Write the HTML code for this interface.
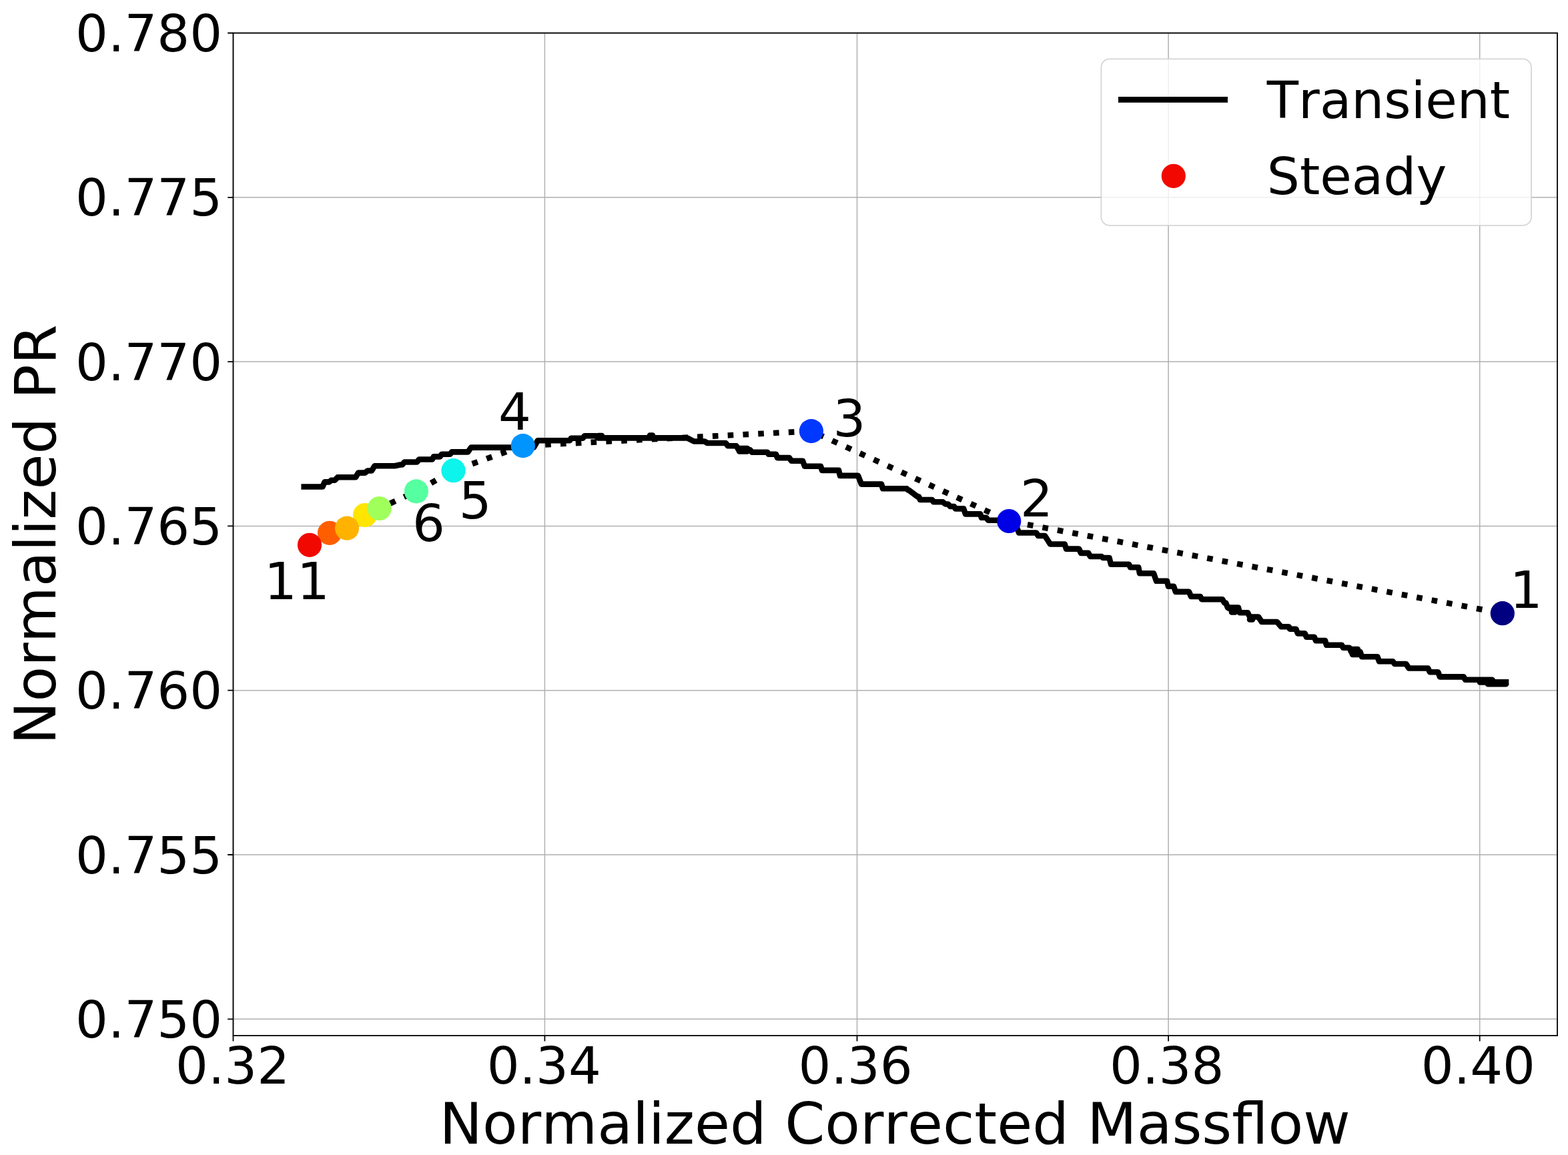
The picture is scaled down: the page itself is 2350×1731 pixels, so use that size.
<!DOCTYPE html>
<html><head><meta charset="utf-8"><title>Normalized PR vs Normalized Corrected Massflow</title>
<style>html,body{margin:0;padding:0;background:#fff;width:2350px;height:1731px;overflow:hidden}svg{display:block}</style>
</head><body><svg width="2350" height="1731" viewBox="0 0 2350 1731" font-family="'DejaVu Sans', 'Liberation Sans', sans-serif" fill="#000" style="font-kerning:none"><defs><clipPath id="ax"><rect x="349.5" y="49.5" width="1984.5" height="1502.6"/></clipPath></defs><rect width="2350" height="1731" fill="#fff"/><path d="M349.50 49.50V1552.10M816.40 49.50V1552.10M1284.50 49.50V1552.10M1751.10 49.50V1552.10M2217.70 49.50V1552.10M349.50 1527.30H2334.00M349.50 1281.00H2334.00M349.50 1034.70H2334.00M349.50 788.40H2334.00M349.50 542.10H2334.00M349.50 295.80H2334.00M349.50 49.50H2334.00" stroke="#b0b0b0" stroke-width="1.5" fill="none"/><g clip-path="url(#ax)"><path d="M451.4 729.5 L483.5 729.5 L486.5 722.4 L493.5 722.4 L496.5 719.7 L502.0 719.7 L506.0 715.3 L533.0 715.3 L537.0 708.6 L547.0 708.6 L551.0 705.5 L557.0 705.5 L561.5 698.2 L591.6 698.2 L600.0 696.5 L603.0 696.5 L606.0 692.5 L625.0 692.5 L628.0 688.5 L647.8 688.5 L650.0 684.4 L659.4 684.4 L662.0 680.8 L674.6 680.8 L677.0 677.4 L701.3 677.4 L706.0 670.6 L800.0 670.6 L806.0 660.2 L853.9 660.2 L856.0 656.7 L873.5 656.7 L876.0 653.2 L893.0 653.2 L896.0 656.4 L1030.0 656.4 L1040.0 661.5 L1056.0 661.5 L1060.0 664.0 L1087.6 664.0 L1091.0 668.3 L1103.6 668.3 L1107.0 674.1 L1124.0 674.1 L1127.0 677.7 L1150.0 677.7 L1152.0 680.8 L1163.0 680.8 L1165.0 686.1 L1183.0 686.1 L1186.0 690.8 L1203.0 690.8 L1206.0 698.8 L1230.0 698.8 L1232.0 704.9 L1257.0 704.9 L1259.0 712.9 L1286.0 712.9 L1291.0 725.6 L1321.0 725.6 L1323.0 732.3 L1359.0 732.3 L1361.0 734.5 L1362.0 734.5 L1375.0 744.3 L1377.0 744.3 L1379.0 749.0 L1397.0 749.0 L1399.0 752.3 L1413.0 752.3 L1417.0 755.5 L1421.0 755.5 L1424.0 759.0 L1429.9 759.0 L1432.0 762.4 L1444.2 762.4 L1447.0 770.4 L1469.2 770.4 L1471.0 775.8 L1478.1 775.8 L1481.0 779.8 L1520.0 779.8 L1527.0 798.5 L1553.0 798.5 L1556.0 803.0 L1566.0 803.0 L1574.0 815.5 L1595.7 815.5 L1598.0 822.6 L1617.1 822.6 L1620.0 828.9 L1631.3 828.9 L1634.0 834.0 L1651.0 834.0 L1653.0 836.0 L1662.5 836.0 L1665.0 845.8 L1692.0 845.8 L1694.0 850.2 L1706.2 850.2 L1708.0 859.2 L1729.0 859.2 L1733.0 870.8 L1749.0 870.8 L1751.0 878.8 L1759.0 878.8 L1762.0 886.9 L1782.0 886.9 L1785.0 894.0 L1799.0 894.0 L1801.0 898.2 L1832.0 898.2 L1835.0 903.5 L1837.2 903.5 L1840.0 910.6 L1855.9 910.6 L1858.0 918.2 L1870.0 918.2 L1873.0 924.5 L1886.0 924.5 L1891.0 932.0 L1913.9 932.0 L1920.0 939.2 L1931.6 939.2 L1933.0 942.7 L1942.3 942.7 L1945.0 949.4 L1955.7 949.4 L1958.0 954.8 L1969.9 954.8 L1972.0 960.1 L1986.0 960.1 L1988.0 966.8 L2011.0 966.8 L2013.0 970.8 L2022.5 970.8 L2025.0 977.0 L2038.6 977.0 L2041.0 984.2 L2064.4 984.2 L2067.0 991.3 L2087.6 991.3 L2090.0 995.0 L2107.2 995.0 L2111.6 1001.5 L2140.1 1001.5 L2143.0 1007.3 L2155.3 1007.3 L2158.0 1014.4 L2193.6 1014.4 L2196.0 1018.8 L2236.4 1018.8 L2239.0 1022.3 L2261.3 1022.3" stroke="#000" stroke-width="8.6" fill="none" stroke-linejoin="round" stroke-linecap="butt"/><path d="M974 652.5H978M897 653.0H902M2218 1022.4H2226M2230 1025.3H2257M1108 672.0H1120M1108 676.5H1120M1842 912.0H1850M1846 917.5H1851M1873 928.5H1877M2027 973.0H2035M2027 981.0H2035" stroke="#000" stroke-width="8.6" fill="none" stroke-linecap="round"/><path d="M464.0 816.8 L494.0 798.8 L520.0 791.6 L547.0 772.0 L568.6 762.0 L623.9 736.4 L679.5 705.2 L783.8 668.1 L1215.9 646.1 L1512.2 781.0 L2251.8 919.2" stroke="#000" stroke-width="8.61" fill="none" stroke-dasharray="8.61 14.21" stroke-dashoffset="0"/><circle cx="494.0" cy="798.8" r="18.1" fill="#ff5e00"/><circle cx="547.0" cy="772.0" r="18.1" fill="#ffe500"/><circle cx="464.0" cy="816.8" r="18.1" fill="#f10800"/><circle cx="520.0" cy="791.6" r="18.1" fill="#ffb300"/><circle cx="568.6" cy="762.0" r="18.1" fill="#a0ff5a"/><circle cx="623.9" cy="736.4" r="18.1" fill="#56ffa0"/><circle cx="679.5" cy="705.2" r="18.1" fill="#0cf4eb"/><circle cx="783.8" cy="668.1" r="18.1" fill="#0094ff"/><circle cx="1215.9" cy="646.1" r="18.1" fill="#0038ff"/><circle cx="1512.2" cy="781.0" r="18.1" fill="#0000e6"/><circle cx="2251.8" cy="919.2" r="18.1" fill="#000080"/></g><rect x="349.5" y="49.5" width="1984.5" height="1502.6" fill="none" stroke="#000" stroke-width="1.8"/><path d="M349.50 1552.10v8.3M816.40 1552.10v8.3M1284.50 1552.10v8.3M1751.10 1552.10v8.3M2217.70 1552.10v8.3M349.50 1527.30h-8.3M349.50 1281.00h-8.3M349.50 1034.70h-8.3M349.50 788.40h-8.3M349.50 542.10h-8.3M349.50 295.80h-8.3M349.50 49.50h-8.3" stroke="#000" stroke-width="1.8"/><text transform="translate(333.20 1554.80) scale(1.0118 1)" font-size="76.0" text-anchor="end" >0.750</text><text transform="translate(333.20 1308.50) scale(1.0118 1)" font-size="76.0" text-anchor="end" >0.755</text><text transform="translate(333.20 1062.20) scale(1.0118 1)" font-size="76.0" text-anchor="end" >0.760</text><text transform="translate(333.20 815.90) scale(1.0118 1)" font-size="76.0" text-anchor="end" >0.765</text><text transform="translate(333.20 569.60) scale(1.0118 1)" font-size="76.0" text-anchor="end" >0.770</text><text transform="translate(333.20 323.30) scale(1.0118 1)" font-size="76.0" text-anchor="end" >0.775</text><text transform="translate(333.20 77.00) scale(1.0118 1)" font-size="76.0" text-anchor="end" >0.780</text><text transform="translate(348.60 1623.90) scale(1.0118 1)" font-size="76.0" text-anchor="middle" >0.32</text><text transform="translate(815.30 1623.90) scale(1.0118 1)" font-size="76.0" text-anchor="middle" >0.34</text><text transform="translate(1282.10 1623.90) scale(1.0118 1)" font-size="76.0" text-anchor="middle" >0.36</text><text transform="translate(1748.70 1623.90) scale(1.0118 1)" font-size="76.0" text-anchor="middle" >0.38</text><text transform="translate(2215.40 1623.90) scale(1.0118 1)" font-size="76.0" text-anchor="middle" >0.40</text><text transform="translate(2262.85 910.60) scale(1.0118 1)" font-size="76.0" text-anchor="start" >1</text><text transform="translate(1529.10 774.00) scale(1.0118 1)" font-size="76.0" text-anchor="start" >2</text><text transform="translate(1248.50 654.00) scale(1.0118 1)" font-size="76.0" text-anchor="start" >3</text><text transform="translate(746.90 643.80) scale(1.0118 1)" font-size="76.0" text-anchor="start" >4</text><text transform="translate(687.80 777.20) scale(1.0118 1)" font-size="76.0" text-anchor="start" >5</text><text transform="translate(617.90 810.90) scale(1.0118 1)" font-size="76.0" text-anchor="start" >6</text><text transform="translate(396.05 898.45) scale(1.0118 1)" font-size="76.0" text-anchor="start" >11</text><text transform="translate(658.54 1714.4) scale(1.0117 1)" font-size="85.2">Normalized Corrected Massflow</text><text transform="translate(83.1 1115.96) rotate(-90) scale(1.0117 1)" font-size="85.2">Normalized PR</text><rect x="1650.4" y="88.4" width="644.5999999999999" height="249.45000000000002" rx="12.5" ry="12.5" fill="#fff" fill-opacity="0.8" stroke="#d5d5d5" stroke-width="1.8"/><path d="M1676.0 149.4H1840.0" stroke="#000" stroke-width="8.6"/><circle cx="1758.8" cy="263.8" r="18.1" fill="#f10800"/><text transform="translate(1898.8 177.4) scale(1.0104 1)" font-size="76.6">Transient</text><text transform="translate(1898.8 290.5) scale(1.0104 1)" font-size="76.6">Steady</text></svg></body></html>
